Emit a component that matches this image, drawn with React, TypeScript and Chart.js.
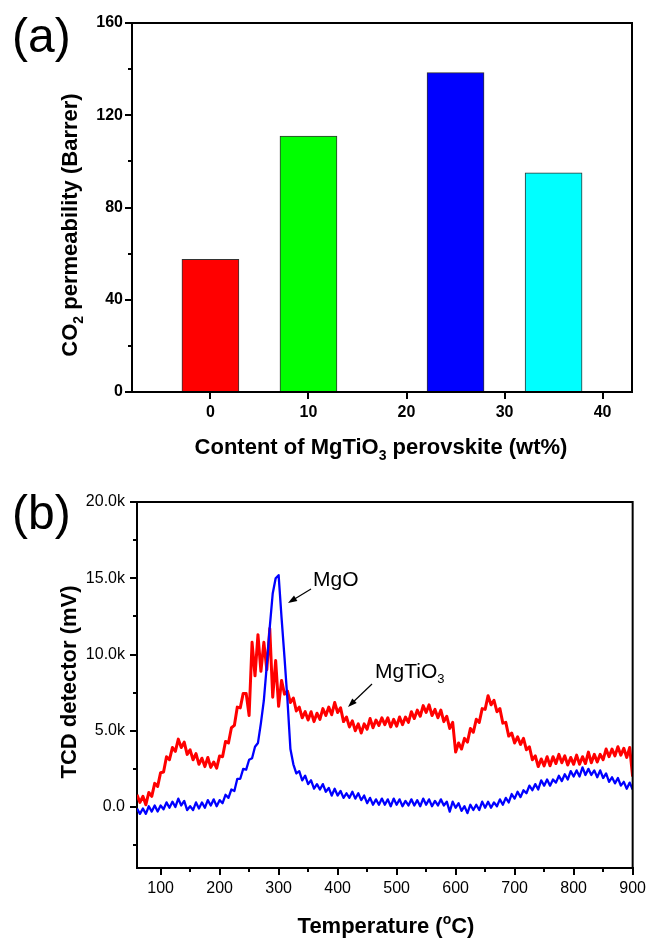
import React, { useEffect, useRef } from 'react';
import { Chart, registerables } from 'chart.js';

Chart.register(...registerables);

const FONT = '"Liberation Sans", Arial, Helvetica, sans-serif';

// ---------- Panel (a) data ----------
const CONTENT_WT = [0, 10, 25, 35];
const PERMEABILITY = [57.5, 111, 138.5, 95];
const BAR_COLORS = ['#ff0000', '#00ff00', '#0000ff', '#00ffff'];
const A_X_TICKS = [0, 10, 20, 30, 40];
const A_Y_TICKS = [0, 40, 80, 120, 160];
const A_Y_MINOR = [20, 60, 100, 140];

// ---------- Panel (b) data ----------
const T_START = 60;
const T_STEP = 5;
// TCD signal in thousands of mV (k), sampled every 5 °C from 60 to 900 °C
const MGO_K = [
  -0.1, -0.45, -0.1, -0.45, 0.05, -0.3, 0.1, -0.3,
  0.1, -0.15, 0.3, -0.05, 0.35, 0.0, 0.55, 0.1, 0.4, -0.2, 0.05, -0.2, 0.3, -0.1, 0.3, -0.05, 0.45, 0.1, 0.5, 0.05,
  0.45, 0.25, 0.8, 0.6, 1.15, 1.05, 1.85, 1.85, 2.5, 2.45, 3.1, 3.2, 3.95, 4.2, 5.5, 7.0, 9.3, 11.8, 14.0, 15.0,
  15.2, 12.4, 9.8, 7.0, 3.8, 2.8, 2.2, 2.35, 1.75, 2.05, 1.5, 1.75, 1.2, 1.5, 1.15, 1.5, 1.0, 1.25, 0.75, 1.2,
  0.75, 1.05, 0.6, 0.9, 0.6, 1.0, 0.55, 0.9, 0.45, 0.75, 0.25, 0.6, 0.15, 0.5, 0.15, 0.55, 0.15, 0.5, 0.05, 0.55,
  0.15, 0.5, 0.05, 0.4, 0.1, 0.5, 0.1, 0.45, 0.05, 0.55, 0.15, 0.5, 0.05, 0.4, 0.1, 0.5, 0.1, 0.35, -0.3, 0.35,
  -0.05, 0.25, -0.25, 0.05, -0.4, 0.15, -0.2, 0.15, -0.2, 0.35, -0.05, 0.35, -0.05, 0.3, 0.05, 0.5, 0.15, 0.6, 0.3, 0.85,
  0.55, 1.0, 0.65, 1.1, 0.9, 1.4, 1.1, 1.5, 1.15, 1.75, 1.4, 1.8, 1.4, 1.8, 1.6, 2.05, 1.7, 2.15, 1.8, 2.35,
  2.0, 2.4, 2.0, 2.6, 2.1, 2.5, 2.1, 2.4, 1.95, 2.4, 1.9, 2.2, 1.65, 1.95, 1.55, 1.9, 1.4, 1.65, 1.2, 1.6,
  1.15,
];
const MGTIO3_K = [
  0.8, 0.3, 0.7, 0.15, 0.95, 0.7, 1.55, 1.35,
  2.25, 2.3, 3.3, 3.1, 3.9, 3.65, 4.45, 3.9, 4.25, 3.45, 3.75, 3.1, 3.5, 2.8, 3.2, 2.65, 3.25, 2.6, 2.95, 2.55,
  3.35, 3.3, 4.3, 4.2, 5.2, 5.35, 6.55, 6.5, 7.45, 7.45, 6.0, 10.8, 8.6, 11.3, 8.9, 10.8, 9.0, 11.7, 7.2, 9.6,
  6.6, 8.3, 7.4, 7.6, 6.85, 7.15, 6.3, 6.55, 5.85, 6.25, 5.7, 6.25, 5.6, 6.15, 5.75, 6.45, 6.0, 6.55, 6.05, 6.85,
  6.2, 6.5, 5.6, 5.9, 5.25, 5.65, 5.0, 5.45, 4.85, 5.45, 5.1, 5.8, 5.2, 5.7, 5.35, 5.85, 5.4, 5.85, 5.25, 5.75,
  5.3, 5.9, 5.4, 5.9, 5.55, 6.25, 5.8, 6.35, 5.95, 6.65, 6.2, 6.7, 6.0, 6.4, 5.85, 6.35, 5.6, 5.95, 5.15, 5.55,
  3.6, 4.2, 3.8, 4.5, 4.25, 5.15, 4.9, 5.75, 5.55, 6.45, 6.4, 7.3, 6.7, 7.0, 6.25, 6.45, 5.5, 5.55, 4.65, 4.85,
  4.2, 4.6, 4.1, 4.5, 3.75, 3.95, 3.1, 3.35, 2.65, 3.15, 2.7, 3.3, 2.7, 3.3, 2.85, 3.45, 2.9, 3.35, 2.75, 3.25,
  2.8, 3.4, 2.8, 3.3, 2.85, 3.6, 2.9, 3.45, 2.95, 3.45, 3.1, 3.8, 3.3, 3.8, 3.35, 3.95, 3.4, 3.85, 3.25, 3.9,
  2.0,
];
const B_X_TICKS = [100, 200, 300, 400, 500, 600, 700, 800, 900];
const B_X_MINOR = [150, 250, 350, 450, 550, 650, 750, 850];
const B_Y_TICKS = [0, 5, 10, 15, 20];
const B_Y_MINOR = [-2.5, 2.5, 7.5, 12.5, 17.5];

type Part = { t: string; sub?: boolean; sup?: boolean };

function drawRich(
  ctx: CanvasRenderingContext2D,
  parts: Part[],
  x: number,
  y: number,
  size: number,
  weight: string,
  align: 'left' | 'center',
  angle = 0
) {
  ctx.save();
  ctx.translate(x, y);
  ctx.rotate(angle);
  const fontFor = (p: Part) =>
    `${weight} ${p.sub || p.sup ? Math.round(size * 0.62) : size}px ${FONT}`;
  let total = 0;
  for (const p of parts) {
    ctx.font = fontFor(p);
    total += ctx.measureText(p.t).width;
  }
  let cx = align === 'center' ? -total / 2 : 0;
  ctx.textAlign = 'left';
  ctx.textBaseline = 'alphabetic';
  ctx.fillStyle = '#000';
  for (const p of parts) {
    ctx.font = fontFor(p);
    const dy = p.sub ? size * 0.25 : p.sup ? -size * 0.42 : 0;
    ctx.fillText(p.t, cx, dy);
    cx += ctx.measureText(p.t).width;
  }
  ctx.restore();
}

function drawArrow(ctx: CanvasRenderingContext2D, x1: number, y1: number, x2: number, y2: number) {
  const ang = Math.atan2(y2 - y1, x2 - x1);
  const len = 9;
  const hw = 3.2;
  ctx.save();
  ctx.strokeStyle = '#000';
  ctx.fillStyle = '#000';
  ctx.lineWidth = 1.2;
  ctx.beginPath();
  ctx.moveTo(x1, y1);
  ctx.lineTo(x2 - Math.cos(ang) * len * 0.8, y2 - Math.sin(ang) * len * 0.8);
  ctx.stroke();
  ctx.beginPath();
  ctx.moveTo(x2, y2);
  ctx.lineTo(x2 - Math.cos(ang) * len - Math.sin(ang) * hw, y2 - Math.sin(ang) * len + Math.cos(ang) * hw);
  ctx.lineTo(x2 - Math.cos(ang) * len + Math.sin(ang) * hw, y2 - Math.sin(ang) * len - Math.cos(ang) * hw);
  ctx.closePath();
  ctx.fill();
  ctx.restore();
}

function framePlugin(id: string, xMinor: number[], yMinor: number[]) {
  return {
    id,
    afterDraw(chart: any) {
      const { ctx, chartArea } = chart;
      const { left, right, top, bottom } = chartArea;
      ctx.save();
      ctx.strokeStyle = '#000';
      ctx.lineWidth = 2;
      ctx.beginPath();
      ctx.moveTo(left - 1, top);
      ctx.lineTo(right, top);
      ctx.lineTo(right, bottom + 1);
      ctx.stroke();
      const xs = chart.scales.x;
      const ys = chart.scales.y;
      ctx.beginPath();
      for (const v of xMinor) {
        const px = Math.round(xs.getPixelForValue(v));
        ctx.moveTo(px, bottom);
        ctx.lineTo(px, bottom + 4);
      }
      for (const v of yMinor) {
        const py = Math.round(ys.getPixelForValue(v));
        ctx.moveTo(left, py);
        ctx.lineTo(left - 4, py);
      }
      ctx.stroke();
      ctx.restore();
    },
  };
}

const textPluginA = {
  id: 'textA',
  afterDraw(chart: any) {
    const ctx = chart.ctx as CanvasRenderingContext2D;
    drawRich(ctx, [{ t: '(a)' }], 12, 52, 48, 'normal', 'left');
    drawRich(
      ctx,
      [{ t: 'Content of MgTiO' }, { t: '3', sub: true }, { t: ' perovskite (wt%)' }],
      381,
      454,
      22,
      'bold',
      'center'
    );
    drawRich(
      ctx,
      [{ t: 'CO' }, { t: '2', sub: true }, { t: ' permeability (Barrer)' }],
      77,
      225,
      22,
      'bold',
      'center',
      -Math.PI / 2
    );
  },
};

const textPluginB = {
  id: 'textB',
  afterDraw(chart: any) {
    const ctx = chart.ctx as CanvasRenderingContext2D;
    drawRich(ctx, [{ t: '(b)' }], 12, 59, 48, 'normal', 'left');
    drawRich(
      ctx,
      [{ t: 'Temperature (' }, { t: 'o', sup: true }, { t: 'C)' }],
      386,
      463,
      22,
      'bold',
      'center'
    );
    drawRich(ctx, [{ t: 'TCD detector (mV)' }], 76, 212, 22, 'bold', 'center', -Math.PI / 2);
    drawRich(ctx, [{ t: 'MgO' }], 313, 116, 21, 'normal', 'left');
    drawRich(ctx, [{ t: 'MgTiO' }, { t: '3', sub: true }], 375, 208, 21, 'normal', 'left');
    drawArrow(ctx, 311, 119, 288, 133);
    drawArrow(ctx, 372, 214, 348, 237);
  },
};

const axisCommon = (bold: boolean, padding: number) => ({
  grid: {
    display: true,
    drawOnChartArea: false,
    drawTicks: true,
    offset: false,
    tickLength: 7,
    lineWidth: 2,
    color: '#000',
  },
  border: { display: true, width: 2, color: '#000' },
  ticks: {
    color: '#000',
    padding,
    font: { family: FONT, size: 16, weight: bold ? 'bold' : 'normal' },
  },
});

function PanelA() {
  const ref = useRef<HTMLCanvasElement>(null);
  useEffect(() => {
    if (!ref.current) return;
    const chart = new Chart(ref.current, {
      type: 'bar',
      data: {
        datasets: [
          {
            data: CONTENT_WT.map((x, i) => ({ x, y: PERMEABILITY[i] })),
            backgroundColor: BAR_COLORS,
            borderColor: '#333333',
            borderWidth: 1,
            barThickness: 57,
          },
        ],
      },
      options: {
        responsive: false,
        animation: false,
        devicePixelRatio: 1,
        layout: { padding: { left: 0, right: 18, top: 23, bottom: 0 } },
        plugins: { legend: { display: false }, tooltip: { enabled: false } },
        scales: {
          x: {
            type: 'linear',
            min: -8,
            max: 43,
            offset: false,
            ...axisCommon(true, 4),
            afterBuildTicks: (s: any) => {
              s.ticks = A_X_TICKS.map((value) => ({ value }));
            },
            afterFit: (s: any) => {
              s.height = 78;
            },
          },
          y: {
            type: 'linear',
            min: 0,
            max: 160,
            ...axisCommon(true, 2),
            afterBuildTicks: (s: any) => {
              s.ticks = A_Y_TICKS.map((value) => ({ value }));
            },
            afterFit: (s: any) => {
              s.width = 132;
            },
          },
        },
      } as any,
      plugins: [framePlugin('frameA', [], A_Y_MINOR), textPluginA],
    });
    return () => chart.destroy();
  }, []);
  return <canvas ref={ref} width={650} height={470} style={{ display: 'block', width: 650, height: 470 }} />;
}

function PanelB() {
  const ref = useRef<HTMLCanvasElement>(null);
  useEffect(() => {
    if (!ref.current) return;
    const chart = new Chart(ref.current, {
      type: 'line',
      data: {
        datasets: [
          {
            label: 'MgO',
            data: MGO_K.map((y, i) => ({ x: T_START + i * T_STEP, y })),
            borderColor: '#0000ff',
            borderWidth: 2.3,
            pointRadius: 0,
            tension: 0,
            borderJoinStyle: 'round',
          },
          {
            label: 'MgTiO3',
            data: MGTIO3_K.map((y, i) => ({ x: T_START + i * T_STEP, y })),
            borderColor: '#ff0000',
            borderWidth: 3,
            pointRadius: 0,
            tension: 0,
            borderJoinStyle: 'round',
          },
        ],
      },
      options: {
        responsive: false,
        animation: false,
        devicePixelRatio: 1,
        layout: { padding: { left: 0, right: 17, top: 32, bottom: 0 } },
        plugins: { legend: { display: false }, tooltip: { enabled: false } },
        scales: {
          x: {
            type: 'linear',
            min: 60,
            max: 900,
            ...axisCommon(false, 4),
            afterBuildTicks: (s: any) => {
              s.ticks = B_X_TICKS.map((value) => ({ value }));
            },
            afterFit: (s: any) => {
              s.height = 70;
            },
          },
          y: {
            type: 'linear',
            min: -4,
            max: 20,
            ...axisCommon(false, 5),
            ticks: {
              color: '#000',
              padding: 5,
              font: { family: FONT, size: 16, weight: 'normal' },
              callback: (v: any) => (v === 0 ? '0.0' : Number(v).toFixed(1) + 'k'),
            },
            afterBuildTicks: (s: any) => {
              s.ticks = B_Y_TICKS.map((value) => ({ value }));
            },
            afterFit: (s: any) => {
              s.width = 137;
            },
          },
        },
      } as any,
      plugins: [framePlugin('frameB', B_X_MINOR, B_Y_MINOR), textPluginB],
    });
    return () => chart.destroy();
  }, []);
  return <canvas ref={ref} width={650} height={468} style={{ display: 'block', width: 650, height: 468 }} />;
}

export default function App() {
  return (
    <div style={{ position: 'absolute', left: 0, top: 0, width: 650, height: 938, background: '#fff' }}>
      <PanelA />
      <PanelB />
    </div>
  );
}
